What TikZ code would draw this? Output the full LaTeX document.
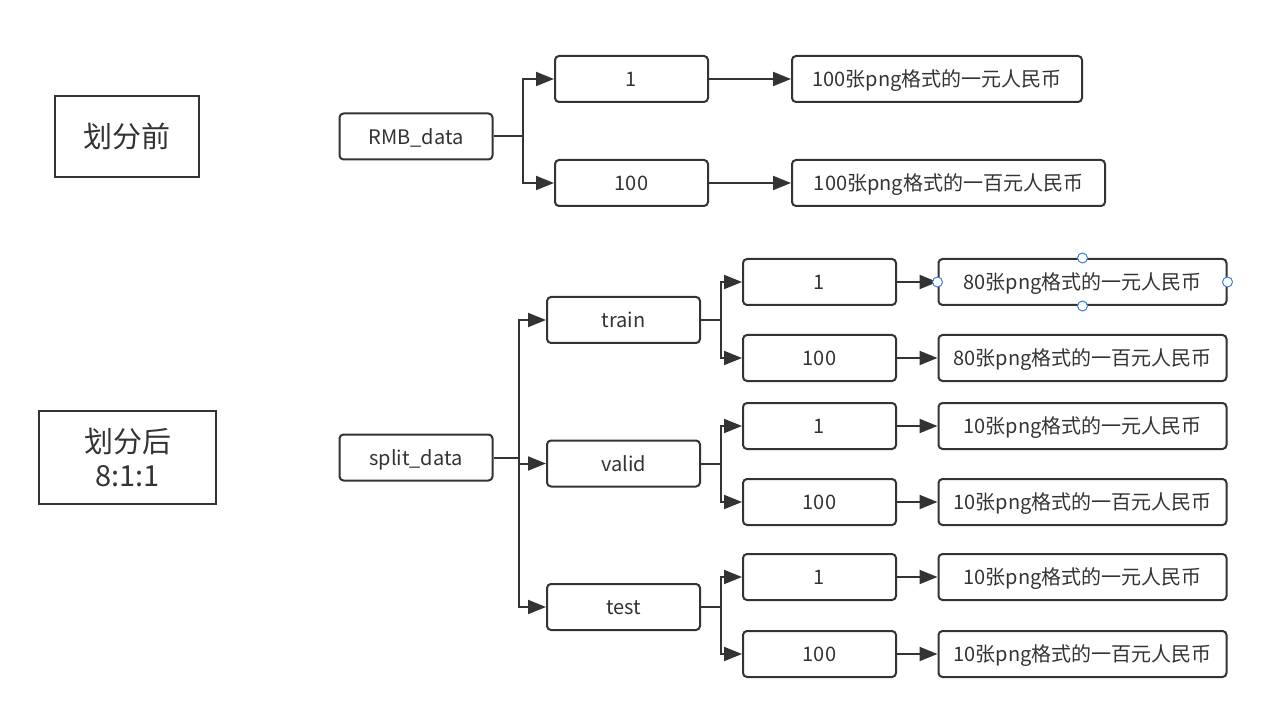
\documentclass[tikz,border=0pt]{standalone}
\usepackage{fontspec}
\setmainfont{Noto Sans CJK SC}
\usetikzlibrary{arrows.meta}
\definecolor{ln}{HTML}{333333}
\definecolor{txt}{HTML}{333333}
\definecolor{sel}{HTML}{3D7FD9}
\tikzset{
  box/.style={draw=ln, line width=2pt, rounded corners=4pt, minimum width=153pt, minimum height=46pt, inner sep=0pt, text=txt, font=\fontsize{20}{24}\selectfont, text height=18pt, text depth=2.4pt},
  leaf/.style={box, minimum width=288pt},
  title/.style={draw=ln, line width=2pt, inner sep=0pt, text=txt, align=center, font=\fontsize{29}{31}\selectfont},
  arr/.style={draw=ln, line width=2pt, -{Triangle[length=18pt,width=14pt]}},
  conn/.style={draw=ln, line width=2pt},
  handle/.style={circle, draw=sel, fill=white, line width=1pt, minimum size=10pt, inner sep=0pt}
}
\begin{document}
\begin{tikzpicture}[x=1pt,y=-1pt]
\useasboundingbox (0,0) rectangle (1282,708);
% titles
\node[title, minimum width=144pt, minimum height=81pt, text height=24pt, text depth=2pt] (before) at (127,136.5) {划分前};
\node[title, minimum width=177pt, minimum height=93pt] (after) at (127.5,457.5) {划分后\\[3pt]8:1:1};
% top tree
\node[box] (rmb) at (416,136.5) {RMB\_data};
\node[box] (a1) at (631.5,79) {1};
\node[box] (a100) at (631.5,183) {100};
\node[box, minimum width=290pt] (a1l) at (937,79) {100张png格式的一元人民币};
\node[box, minimum width=313pt] (a100l) at (948.5,183) {100张png格式的一百元人民币};
\coordinate (ja) at (523,136.5);
\draw[conn] (rmb.east) -- (ja);
\draw[arr] (ja) |- (a1.west);
\draw[arr] (ja) |- (a100.west);
\draw[arr] (a1.east) -- (a1l.west);
\draw[arr] (a100.east) -- (a100l.west);
% bottom tree
\node[box] (split) at (416,457.5) {split\_data};
\node[box] (train) at (623.5,320) {train};
\node[box] (valid) at (623.5,463.5) {valid};
\node[box] (test) at (623.5,607) {test};
\coordinate (js) at (519,457.5);
\draw[conn] (split.east) -- (js);
\draw[arr] (js) |- (train.west);
\draw[arr] (js) |- (valid.west);
\draw[arr] (js) |- (test.west);
% train
\node[box] (t1) at (819.5,282) {1};
\node[box] (t100) at (819.5,358) {100};
\node[leaf] (t1l) at (1082.5,282) {80张png格式的一元人民币};
\node[leaf] (t100l) at (1082.5,358) {80张png格式的一百元人民币};
\coordinate (jt) at (721,320);
\draw[conn] (train.east) -- (jt);
\draw[arr] (jt) |- (t1.west);
\draw[arr] (jt) |- (t100.west);
\draw[arr] (t1.east) -- (t1l.west);
\draw[arr] (t100.east) -- (t100l.west);
% valid
\node[box] (v1) at (819.5,426) {1};
\node[box] (v100) at (819.5,502) {100};
\node[leaf] (v1l) at (1082.5,426) {10张png格式的一元人民币};
\node[leaf] (v100l) at (1082.5,502) {10张png格式的一百元人民币};
\coordinate (jv) at (721,463.5);
\draw[conn] (valid.east) -- (jv);
\draw[arr] (jv) |- (v1.west);
\draw[arr] (jv) |- (v100.west);
\draw[arr] (v1.east) -- (v1l.west);
\draw[arr] (v100.east) -- (v100l.west);
% test
\node[box] (s1) at (819.5,577) {1};
\node[box] (s100) at (819.5,654) {100};
\node[leaf] (s1l) at (1082.5,577) {10张png格式的一元人民币};
\node[leaf] (s100l) at (1082.5,654) {10张png格式的一百元人民币};
\coordinate (jx) at (721,607);
\draw[conn] (test.east) -- (jx);
\draw[arr] (jx) |- (s1.west);
\draw[arr] (jx) |- (s100.west);
\draw[arr] (s1.east) -- (s1l.west);
\draw[arr] (s100.east) -- (s100l.west);
% selection handles
\node[handle] (h1) at (t1l.north) {};
\node[handle] (h2) at (t1l.south) {};
\node[handle] (h3) at (t1l.west) {};
\node[handle] (h4) at (t1l.east) {};
\end{tikzpicture}
\end{document}
